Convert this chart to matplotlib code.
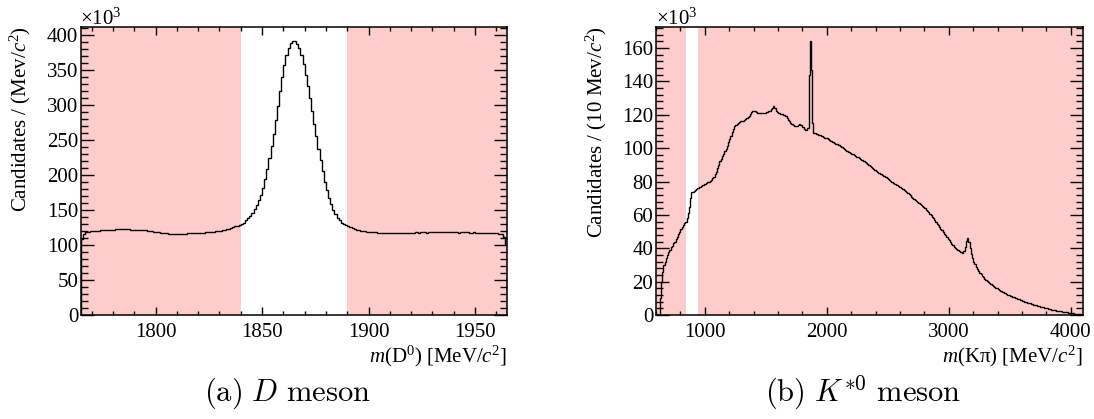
"""Invariant-mass spectra for the D0 and K*0 candidate samples, with the
sideband regions shaded. Saved to out.png."""

import matplotlib

matplotlib.use("Agg")

import matplotlib.pyplot as plt  # noqa: E402
import numpy as np  # noqa: E402
from matplotlib.ticker import MultipleLocator  # noqa: E402

plt.rcParams["font.family"] = ["Liberation Serif", "DejaVu Serif"]
plt.rcParams["mathtext.fontset"] = "custom"
plt.rcParams["mathtext.rm"] = "Liberation Serif"
plt.rcParams["mathtext.it"] = "Liberation Serif:italic"

# --- panel (a): m(D0), 1 MeV bins, candidates in thousands ---
d0_lo, d0_hi, d0_bin = 1765, 1965, 1
d0_counts = [
    108, 116, 118, 119, 119.5, 120, 120, 120.5, 120.5, 121,
    121, 121.5, 121.5, 122, 122, 122, 122.5, 122.5, 122.5, 122.5,
    122.5, 122.5, 122.5, 122, 122, 122, 121.5, 121.5, 121, 121,
    121, 120.5, 120, 119.5, 119, 118.5, 118, 117.5, 117, 116.5,
    116.5, 116, 116, 116, 115.5, 115.5, 116, 116, 116, 116,
    116.5, 116.5, 116.5, 117, 117, 117, 117.5, 117.5, 118, 118,
    118.5, 118.5, 119, 119.5, 120, 120.5, 121, 122, 122.5, 123.5,
    124.5, 125.5, 126.5, 127.5, 128.5,
    129.5, 132, 135, 138, 142, 146, 151, 157, 164, 172,
    182, 194, 208, 224, 241, 259, 279, 299, 320, 340,
    357, 371, 382, 389, 392, 391, 387, 382, 372, 358,
    343, 327, 310, 292, 273, 255, 237, 221, 205, 190,
    178, 167, 158, 150, 144, 139, 135, 132, 130, 128,
    126.5, 125, 124, 123, 122, 121, 120.5, 120, 119.5, 119,
    118.5, 118, 118, 118, 117.5, 117.5, 117.5, 117, 117, 117,
    117, 116.5, 117, 117, 116.5, 117, 117, 117, 117.5, 117.5,
    117.5, 117.5, 118, 117.5, 118, 118, 118, 117.5, 118, 118,
    118, 118, 118.5, 118, 118, 118.5, 118, 118, 118, 118,
    118, 118, 117.5, 118, 118, 118, 118, 117.5, 117.5, 118,
    117.5, 117.5, 117.5, 117, 117.5, 117, 117, 117, 117, 116.5,
    116.5, 116, 115, 112, 100,
]
d0_sidebands = [(1765, 1840), (1890, 1965)]

# --- panel (b): m(K pi), 10 MeV bins, candidates in thousands ---
kpi_lo, kpi_hi, kpi_bin = 600, 4100, 10
kpi_counts = [
    0, 0, 0, 10, 20, 26, 30, 32, 34, 36,
    38, 39, 40.5, 41.5, 43, 44, 45.5, 47, 48.5, 50,
    51.5, 53, 54, 55, 56, 58, 61, 65, 70, 73.5,
    74, 74.5, 75, 75.5, 76, 76.5, 77, 77.5, 78, 78.5,
    78.5, 79, 79.5, 80, 80.5, 81, 82, 83, 84.5, 86,
    88, 90, 92, 93.5, 95, 96.5, 98, 99.5, 101.5, 103.5,
    105.5, 107.5, 109.5, 111.5, 113, 114, 114.5, 115, 115.5, 116,
    116, 116.5, 117, 117.5, 118, 118.5, 119.5, 120.5, 121.5, 122,
    122.5, 122, 121.5, 121, 121, 120.8, 120.8, 121, 121, 121,
    121.4, 121.8, 122.2, 122.5, 123.5, 124, 125.4, 124, 122, 121.5,
    121, 121, 120.5, 120.5, 120, 120, 119, 118, 117, 116,
    115, 114.5, 114, 113.5, 113.5, 113.5, 114, 114.2, 114, 113.8,
    112.5, 111.5, 111, 111, 112, 144, 164.5, 147, 115, 109,
    108.8, 108.5, 108.3, 108, 107.8, 107.5, 107, 106.5, 106.2, 106,
    105.8, 105.3, 104.8, 104.3, 103.8, 103.4, 103, 102.6, 102.2, 101.9,
    101.6, 101.2, 100.7, 100.1, 99.5, 98.9, 98.3, 97.9, 97.5, 97.1,
    96.7, 96.3, 95.9, 95.4, 94.9, 94.4, 93.9, 93.5, 93.1, 92.6,
    92.1, 91.7, 91.3, 90.6, 90.0, 89.3, 88.7, 88.0, 87.4, 86.9,
    86.3, 85.8, 85.4, 84.9, 84.5, 84.0, 83.6, 83.1, 82.6, 82.0,
    81.4, 80.8, 80.2, 79.6, 79.1, 78.7, 78.3, 77.9, 77.4, 77.0,
    76.5, 76.1, 75.6, 75.0, 74.4, 73.8, 73.1, 72.4, 71.7, 71.0,
    70.4, 69.8, 69.2, 68.5, 67.9, 67.3, 66.6, 66.0, 65.3, 64.6,
    63.9, 63.2, 62.4, 61.6, 60.8, 60.0, 59.0, 58.0, 56.9, 55.8,
    54.7, 53.7, 52.7, 51.7, 50.8, 49.8, 48.8, 47.8, 46.8, 45.8,
    44.8, 43.8, 42.8, 41.9, 41.0, 40.2, 39.5, 38.9, 38.4, 38.0,
    37.6, 37.4, 38.2, 40.5, 44.5, 46.3, 43.5, 40.0, 36.5, 34.0,
    32.0, 30.3, 28.9, 27.6, 26.5, 25.4, 24.4, 23.5, 22.6, 21.8,
    21.1, 20.4, 19.7, 19.1, 18.5, 17.9, 17.4, 16.9, 16.4, 15.9,
    15.4, 15.0, 14.6, 14.2, 13.8, 13.4, 13.0, 12.6, 12.2, 11.9,
    11.6, 11.3, 11.0, 10.7, 10.3, 10.0, 9.7, 9.4, 9.1, 8.8,
    8.5, 8.2, 7.9, 7.7, 7.4, 7.1, 6.9, 6.6, 6.4, 6.1,
    5.9, 5.7, 5.5, 5.3, 5.1, 4.9, 4.7, 4.5, 4.3, 4.1,
    3.9, 3.7, 3.5, 3.4, 3.2, 3.0, 2.9, 2.7, 2.6, 2.4,
    2.3, 2.2, 2.1, 1.9, 1.8, 1.7, 1.6, 1.5, 1.4, 1.3,
    1.1, 1.0, 0.9, 0.8, 0.7, 0.6, 0.5, 0.4, 0.3, 0.2,
]
kpi_sidebands = [(600, 845), (945, 4100)]

SIDEBAND_COLOR = "#ffcccc"
W, H = 1094, 419
FS = 15


def draw_panel(ax, lo, hi, step, counts, sidebands, ymax, xmaj, xmin, ymaj, ymin):
    edges = np.arange(lo, hi + step, step)
    for a, b in sidebands:
        ax.axvspan(a, b, color=SIDEBAND_COLOR, lw=0, zorder=0)
    ax.stairs(counts, edges, color="black", lw=1.0, zorder=2)
    ax.set_xlim(lo, hi)
    ax.set_ylim(0, ymax)
    ax.xaxis.set_major_locator(MultipleLocator(xmaj))
    ax.xaxis.set_minor_locator(MultipleLocator(xmin))
    ax.yaxis.set_major_locator(MultipleLocator(ymaj))
    ax.yaxis.set_minor_locator(MultipleLocator(ymin))
    ax.tick_params(which="both", direction="in", top=True, right=True,
                   labelsize=FS, width=1.0, colors="black")
    ax.tick_params(axis="y", which="major", length=9.5, pad=2)
    ax.tick_params(axis="y", which="minor", length=5)
    ax.tick_params(axis="x", which="major", length=5.8, pad=6)
    ax.tick_params(axis="x", which="minor", length=3)
    for s in ax.spines.values():
        s.set_linewidth(1.1)


fig = plt.figure(figsize=(W / 100, H / 100), dpi=100)
ax_d = fig.add_axes([81 / W, 1 - 315 / H, 426 / W, 288 / H])
ax_k = fig.add_axes([656 / W, 1 - 315 / H, 427 / W, 288 / H])

draw_panel(ax_d, d0_lo, d0_hi, d0_bin, d0_counts, d0_sidebands, 411.4, 50, 10, 50, 10)
draw_panel(ax_k, kpi_lo, kpi_hi, kpi_bin, kpi_counts, kpi_sidebands, 172.6, 1000, 200, 20, 4)

# axis titles, ROOT style: aligned to the axis ends
fig.text(20 / W, 1 - 26 / H, "Candidates / (Mev/$c^2$)", rotation=90,
         ha="center", va="top", fontsize=FS)
fig.text(596 / W, 1 - 26 / H, "Candidates / (10 Mev/$c^2$)", rotation=90,
         ha="center", va="top", fontsize=FS)
fig.text(507 / W, 1 - 344 / H, "$m$(D$^0$) [MeV/$c^2$]", ha="right", va="top", fontsize=FS)
fig.text(1083 / W, 1 - 344 / H, "$m$(Kπ) [MeV/$c^2$]", ha="right", va="top", fontsize=FS)
fig.text(80 / W, 1 - 25 / H, "×10$^3$", ha="left", va="baseline", fontsize=FS)
fig.text(656 / W, 1 - 25 / H, "×10$^3$", ha="left", va="baseline", fontsize=FS)

# subfigure captions in LaTeX-like type
fig.text(287 / W, 1 - 393 / H, r"$\mathrm{(a)}\ D\ \mathrm{meson}$", ha="center",
         va="center", fontsize=22, math_fontfamily="cm")
fig.text(863 / W, 1 - 393 / H, r"$\mathrm{(b)}\ K^{*0}\ \mathrm{meson}$", ha="center",
         va="center", fontsize=22, math_fontfamily="cm")

fig.savefig("out.png", dpi=100)
